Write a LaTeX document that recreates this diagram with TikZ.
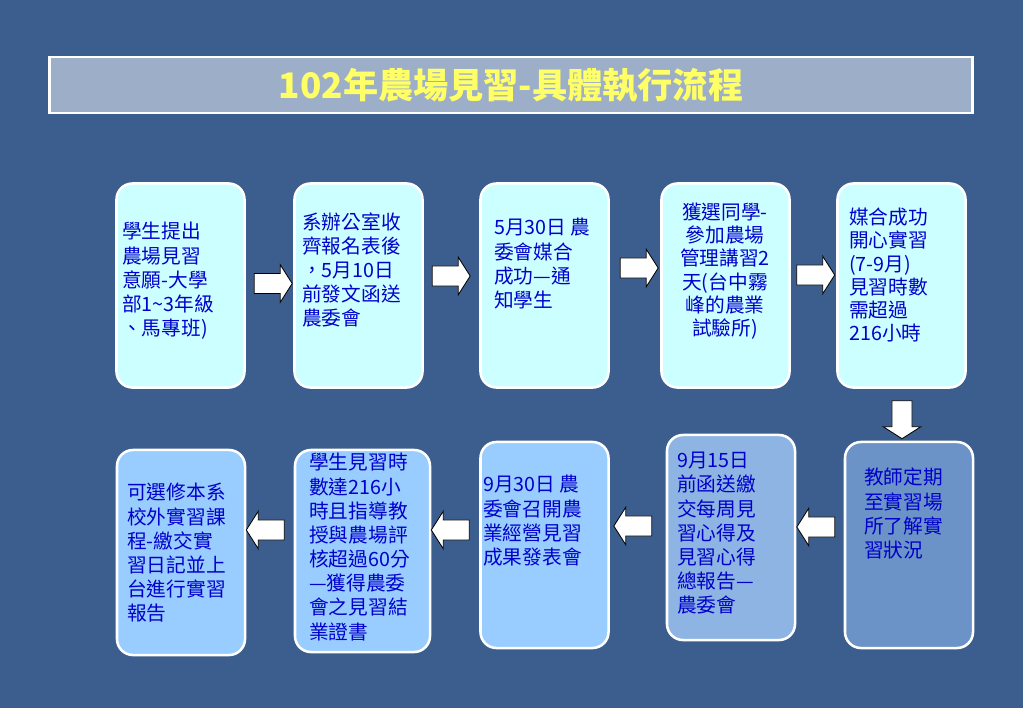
\documentclass[tikz,border=0pt]{standalone}
\usepackage{fontspec}
\setmainfont{Noto Sans CJK TC}
\usepackage{tikz}
\usetikzlibrary{shapes.arrows}

\definecolor{bgblue}{RGB}{59,94,142}
\definecolor{titlefill}{RGB}{157,174,200}
\definecolor{titleyellow}{RGB}{255,255,102}
\definecolor{cyanfill}{RGB}{204,255,255}
\definecolor{skyfill}{RGB}{153,204,255}
\definecolor{midfill}{RGB}{141,180,226}
\definecolor{deepfill}{RGB}{108,147,199}
\definecolor{textblue}{RGB}{0,0,204}

\begin{document}
\begin{tikzpicture}[x=0.025cm, y=-0.025cm,
    box/.style={draw=white, line width=1.8pt, rounded corners=0.4cm, minimum width=3.2cm, minimum height=5.1cm},
    txt/.style={text=textblue, inner sep=0pt, align=left, anchor=north west, font=\fontsize{14}{17.2}\selectfont},
    blockarrow/.style={single arrow, draw=black, fill=white, line width=0.6pt, inner xsep=0pt, inner ysep=0.24cm, minimum height=0.95cm, single arrow head extend=0.22cm, single arrow tip angle=115}]

                % Background
                \fill[bgblue] (0,0) rectangle (1023,708);
                \useasboundingbox (0,0) rectangle (1023,708);

                % Title
                \node at (511,85) (title) [draw=white, line width=2pt, fill=titlefill, minimum width=23.05cm, minimum height=1.4cm, text=titleyellow, font=\fontsize{25}{30}\selectfont\bfseries] {102年農場見習-具體執行流程};

                % Boxes
                \node at (180.5,285.5) (b1) [box, fill=cyanfill] {};
                \node at (358.5,285.5) (b2) [box, fill=cyanfill] {};
                \node at (544.5,285.5) (b3) [box, fill=cyanfill] {};
                \node at (725.5,285.5) (b4) [box, fill=cyanfill] {};
                \node at (901.5,285.5) (b5) [box, fill=cyanfill] {};
                \node at (909,545) (b6) [box, fill=deepfill, minimum height=5.15cm] {};
                \node at (731,537.5) (b7) [box, fill=midfill, minimum height=5.125cm] {};
                \node at (544.5,545) (b8) [box, fill=skyfill, minimum height=5.15cm] {};
                \node at (362.5,551) (b9) [box, fill=skyfill, minimum width=3.375cm, minimum height=5.05cm] {};
                \node at (181,552.5) (b10) [box, fill=skyfill, minimum height=5.125cm] {};

                % Texts
                \node at (122,222) (t1) [txt] {學生提出\\農場見習\\意願-大學\\部1\textasciitilde3年級\\、馬專班)};
                \node at (302,212) (t2) [txt] {系辦公室收\\齊報名表後\\，5月10日\\前發文函送\\農委會};
                \node at (494,218) (t3) [txt] {5月30日 農\\委會媒合\\成功—通\\知學生};
                \node at (725,203) (t4) [txt, anchor=north, align=center, font=\fontsize{14}{16.4}\selectfont] {獲選同學-\\參加農場\\管理講習2\\天(台中霧\\峰的農業\\試驗所)};
                \node at (849,208) (t5) [txt, font=\fontsize{14}{16.4}\selectfont] {媒合成功\\開心實習\\(7-9月)\\見習時數\\需超過\\216小時};
                \node at (864,468) (t6) [txt] {教師定期\\至實習場\\所了解實\\習狀況};
                \node at (677,452) (t7) [txt] {9月15日\\前函送繳\\交每周見\\習心得及\\見習心得\\總報告—\\農委會};
                \node at (483,475) (t8) [txt] {9月30日 農\\委會召開農\\業經營見習\\成果發表會};
                \node at (309,453) (t9) [txt] {學生見習時\\數達216小\\時且指導教\\授與農場評\\核超過60分\\—獲得農委\\會之見習結\\業證書};
                \node at (127,483) (t10) [txt] {可選修本系\\校外實習課\\程-繳交實\\習日記並上\\台進行實習\\報告};

                % Arrows
                \node at (270,283.5) (a12) [blockarrow] {};
                \node at (448,276) (a23) [blockarrow] {};
                \node at (636,268) (a34) [blockarrow] {};
                \node at (812.5,275) (a45) [blockarrow] {};
                \node at (902,416.5) (a56) [blockarrow, rotate=-90] {};
                \node at (819,527) (a67) [blockarrow, rotate=180] {};
                \node at (636,526) (a78) [blockarrow, rotate=180] {};
                \node at (453.5,530) (a89) [blockarrow, rotate=180] {};
                \node at (268.5,530) (a910) [blockarrow, rotate=180] {};

\end{tikzpicture}
\end{document}
